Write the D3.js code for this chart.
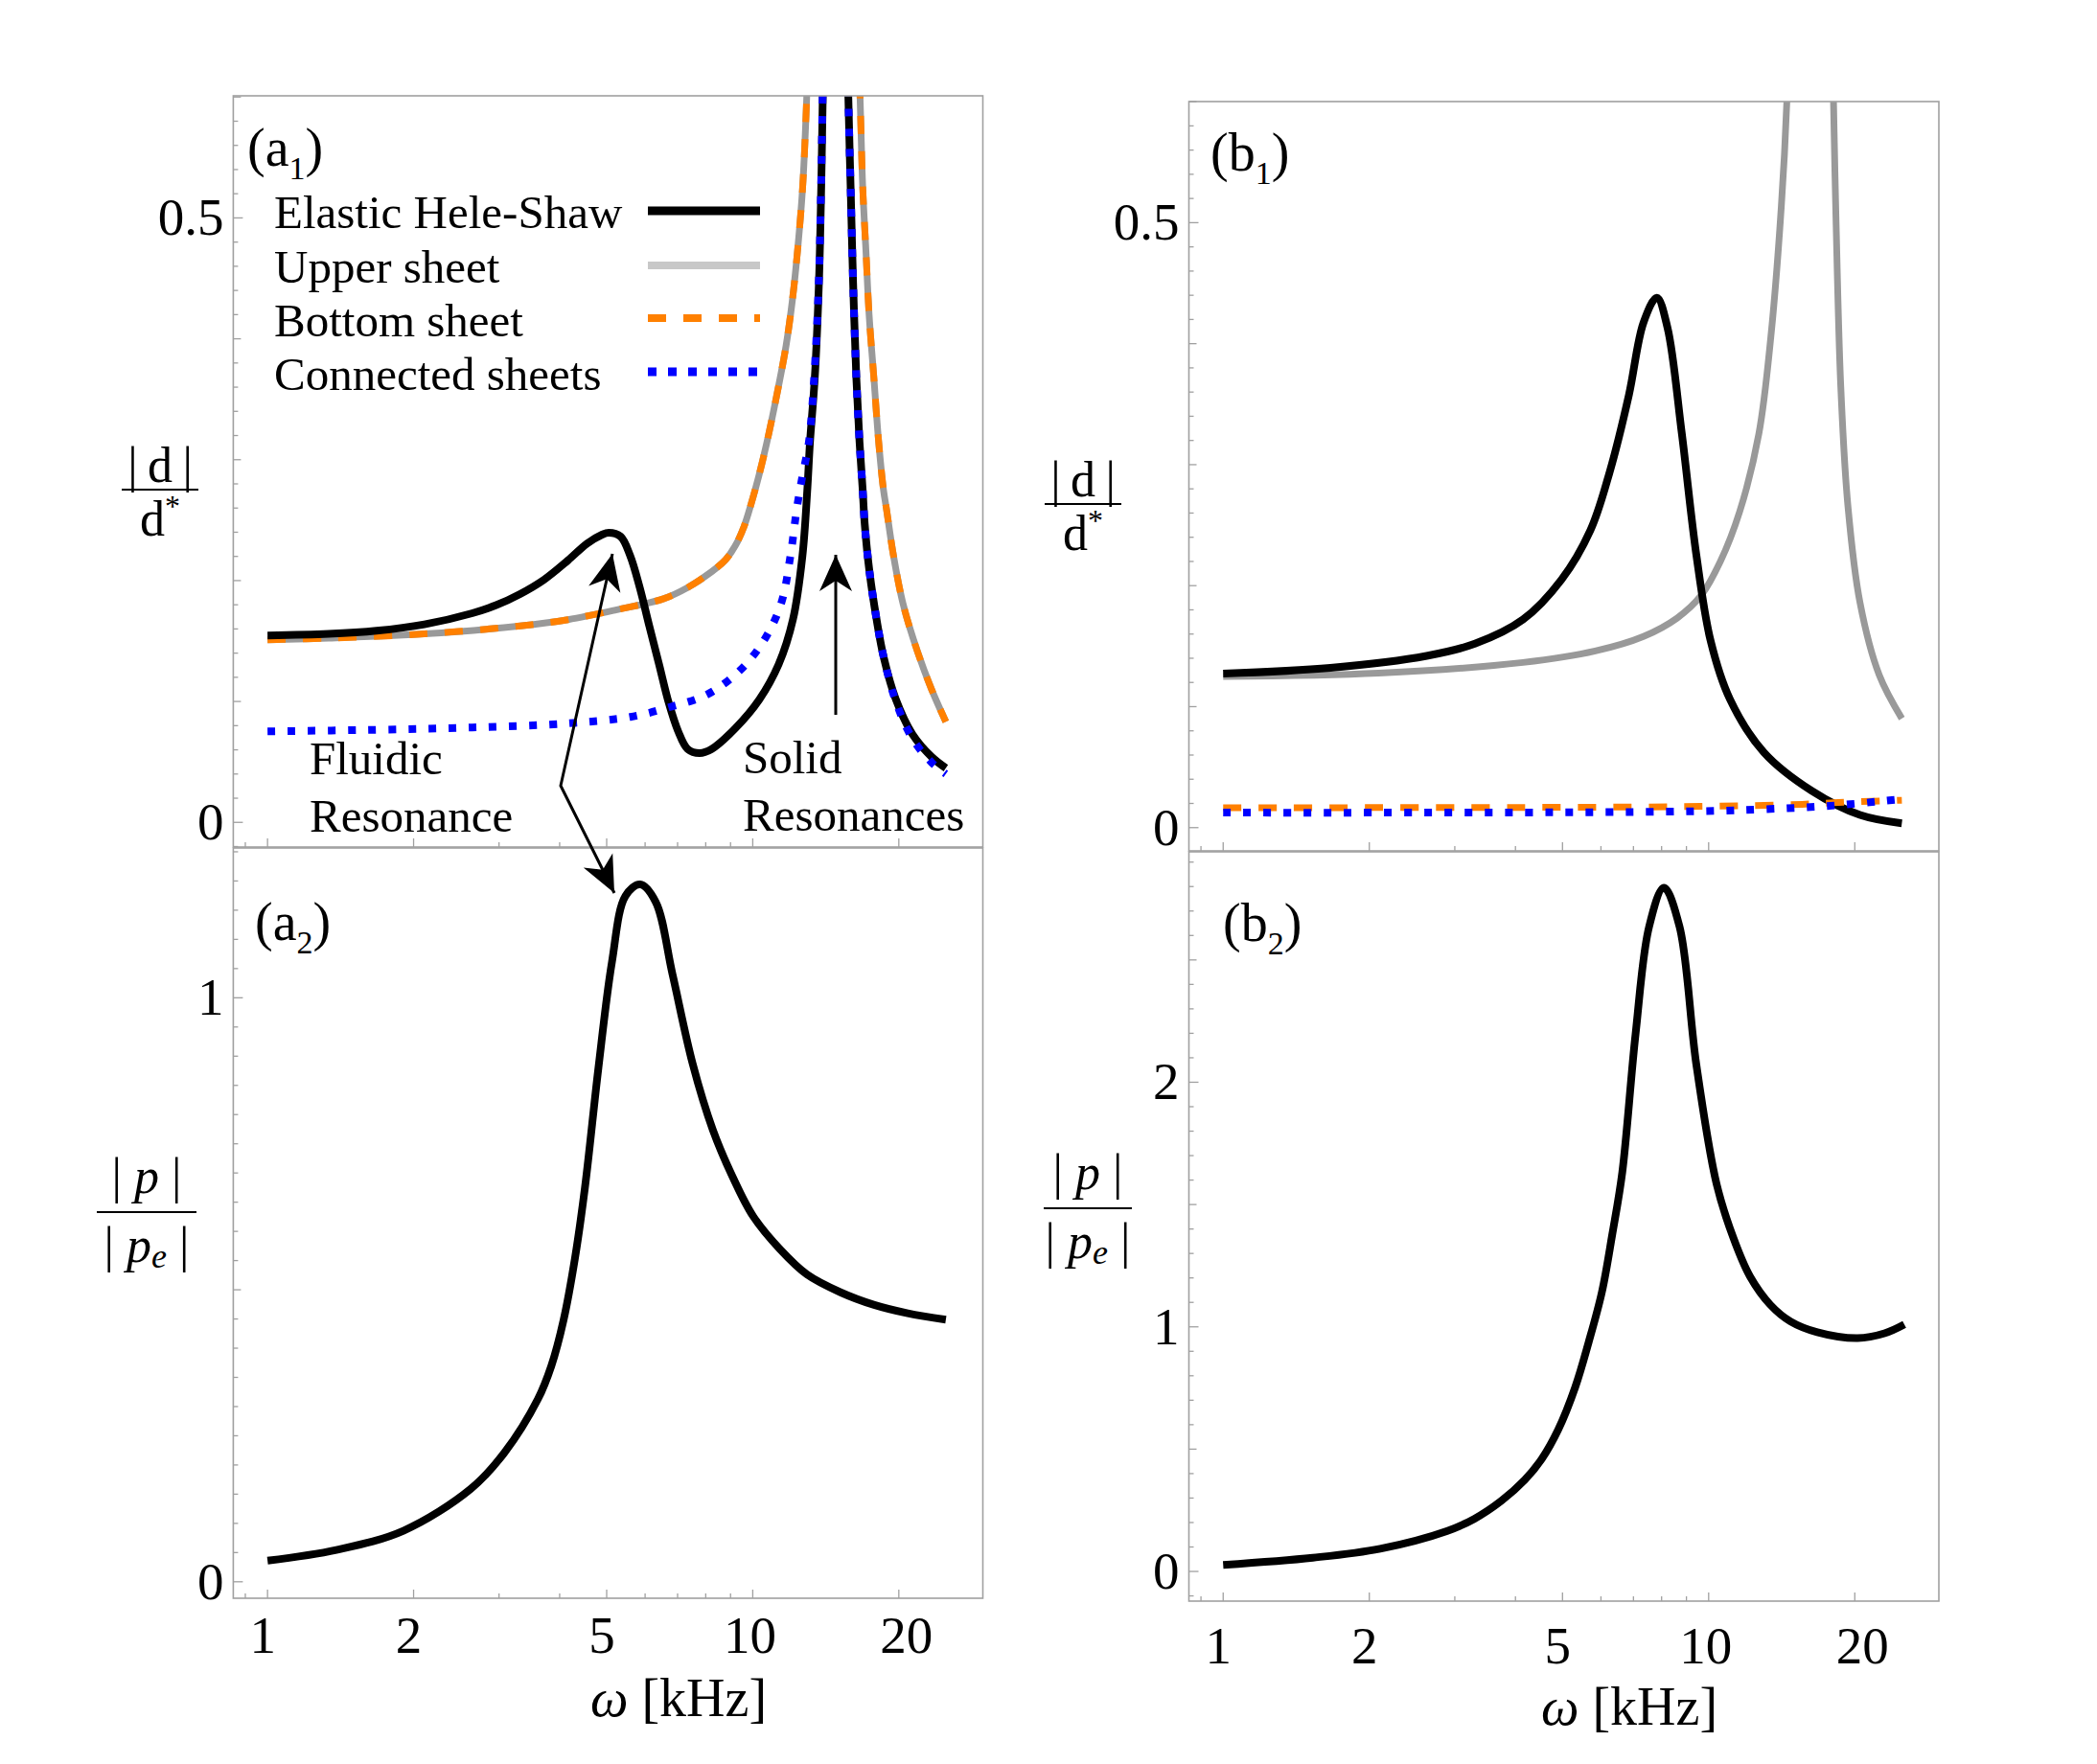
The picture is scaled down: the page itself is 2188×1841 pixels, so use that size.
<!DOCTYPE html>
<html>
<head>
<meta charset="utf-8">
<script src="https://cdn.jsdelivr.net/npm/d3@7"></script>
<style>
  body { margin: 0; background: #fff; }
  text { font-family: "Liberation Serif", "Times New Roman", serif; fill: #000; }
</style>
</head>
<body>
<div id="chart"></div>
<script>
// frequency in kHz
// (a1) displacement
var a1Hele = [[1.0,0.1546],[1.337,0.1559],[1.677,0.1585],[2.105,0.1638],[2.642,0.173],[2.96,0.1797],[3.315,0.1889],
  [3.715,0.2008],[4.16,0.2167],[4.557,0.2307],[4.88,0.2378],[5.05,0.2396],[5.34,0.2365],[5.59,0.2206],[5.85,0.1942],
  [6.12,0.1625],[6.41,0.1308],[6.71,0.0991],[7.02,0.0753],[7.34,0.0607],[7.77,0.0573],[8.23,0.0607],[9.21,0.0779],
  [10.32,0.1017],[11.31,0.1308],[12.1,0.1677],[12.66,0.2206],[12.95,0.274],[13.12,0.3144],[13.42,0.3673],
  [13.69,0.4466],[13.84,0.526],[13.94,0.6],[14.8,1.2],[15.74,0.6],[15.91,0.526],[16.1,0.4466],[16.35,0.3673],
  [16.6,0.3144],[16.85,0.2748],[17.01,0.247],[17.4,0.2074],[18.0,0.1677],[18.63,0.136],[19.72,0.1017],
  [21.36,0.0726],[23.38,0.0541],[25.0,0.0449]];
// upper and bottom sheet lie on top of each other in (a1)
var a1Sheet = [[1.0,0.151],[1.337,0.1524],[2.105,0.1559],[3.315,0.1625],[4.16,0.1677],[5.22,0.1757],[6.55,0.185],
  [7.34,0.1942],[8.23,0.2074],[8.8,0.2175],[9.21,0.229],[9.6,0.245],[9.9,0.262],[10.3,0.287],[10.69,0.314],
  [11.19,0.352],[11.71,0.394],[12.07,0.432],[12.35,0.47],[12.67,0.525],[12.92,0.6],[14.66,1.3],[16.64,0.6],
  [16.85,0.526],[17.11,0.473],[17.37,0.42],[17.77,0.3673],[18.18,0.3144],[18.6,0.2748],[18.85,0.26],[19.5,0.2206],
  [20.4,0.181],[21.85,0.1413],[23.38,0.1097],[25.0,0.0832]];
var a1Connected = [[1.0,0.0753],[1.677,0.0766],[2.642,0.0785],[4.16,0.0819],[5.59,0.0872],[6.71,0.0951],[8.05,0.1057],
  [9.4,0.1255],[10.55,0.1506],[11.44,0.181],[11.96,0.2206],[12.33,0.26],[12.66,0.2866],[13.05,0.3144],[13.38,0.3673],
  [13.68,0.4466],[13.83,0.526],[13.93,0.6],[14.8,1.2],[15.74,0.6],[15.91,0.526],[16.1,0.4466],[16.35,0.3673],
  [16.6,0.3144],[16.85,0.2748],[17.01,0.247],[17.4,0.2074],[18.0,0.1677],[18.63,0.136],[19.72,0.1],[21.36,0.069],
  [23.38,0.0495],[25.0,0.04]];
// (a2) pressure
var a2Pressure = [[1.0,0.0362],[1.386,0.0546],[1.906,0.0874],[2.623,0.159],[3.076,0.2208],[3.609,0.313],[3.846,0.3699],
  [4.074,0.4478],[4.3,0.5533],[4.511,0.6757],[4.808,0.88],[5.127,1.0616],[5.465,1.1744],[5.86,1.1941],[6.31,1.1641],
  [6.83,1.041],[7.52,0.887],[8.27,0.7745],[9.1,0.6925],[10.02,0.6258],[11.38,0.5694],[12.93,0.5263],[15.17,0.4956],
  [17.8,0.474],[20.87,0.4597],[25.0,0.4488]];
// (b1) displacement
var b1Hele = [[1.0,0.1273],[1.663,0.1321],[2.626,0.142],[3.3,0.152],[4.146,0.172],[4.977,0.205],[5.708,0.2458],
  [6.25,0.2936],[6.85,0.3575],[7.34,0.4173],[7.82,0.438],[8.225,0.4134],[8.806,0.3256],[9.43,0.2258],[10.1,0.154],
  [11.06,0.1062],[12.99,0.0623],[16.31,0.0304],[20.5,0.0105],[25.0,0.0036]];
var b1Upper = [[1.0,0.1249],[2.09,0.1277],[4.146,0.1365],[5.84,0.146],[7.34,0.158],[8.61,0.1732],[9.65,0.1919],
  [10.57,0.2199],[11.58,0.2609],[12.69,0.3256],[13.43,0.4054],[14.07,0.5051],[14.49,0.6],[16.2,1.5],[18.08,0.6],
  [18.29,0.5051],[18.71,0.3655],[19.36,0.2658],[20.5,0.186],[22.46,0.1261],[25.0,0.0902]];
var b1Bottom = [[1.0,0.0165],[5.0,0.0168],[9.87,0.0176],[15.58,0.0193],[19.58,0.0212],[25.0,0.0226]];
var b1Connected = [[1.0,0.0124],[8.23,0.0132],[12.99,0.0152],[18.29,0.0184],[25.0,0.0236]];
// (b2) pressure
var b2Pressure = [[1.0,0.027],[1.53,0.0563],[2.105,0.0929],[2.897,0.166],[3.29,0.215],[3.74,0.2885],[4.18,0.374],
  [4.53,0.4597],[4.9,0.58],[5.31,0.753],[5.66,0.937],[6.03,1.144],[6.33,1.377],[6.64,1.633],[7.07,2.196],[7.54,2.636],
  [8.09,2.795],[8.71,2.636],[9.43,2.074],[10.38,1.585],[11.24,1.3644],[12.17,1.2054],[13.39,1.0906],[14.74,1.0221],
  [16.74,0.978],[20.27,0.9536],[23.03,0.9736],[25.3,1.01]];

var xTickLabels = [1, 2, 5, 10, 20];
var xMinorTicks = [0.9, 3, 4, 6, 7, 8, 9];
var legendNames = ["Elastic Hele-Shaw", "Upper sheet", "Bottom sheet", "Connected sheets"];

var W = 2188, H = 1841;
var frameColor = "#a0a0a0";
// tick labels sit a little off their ticks in the original
var xLabelNudge = {1: -5, 2: -5, 5: -5, 10: -3, 20: 8};

var styles = {
  hele:      {stroke: "#000", width: 8, dash: null},
  upper:     {stroke: "#999", width: 7, dash: null},
  bottom:    {stroke: "#ff8000", width: 7, dash: "19,18"},
  connected: {stroke: "#0000ff", width: 8, dash: "8,13"}
};

var svg = d3.select("#chart").append("svg")
    .attr("width", W)
    .attr("height", H);
svg.append("rect").attr("width", W).attr("height", H).attr("fill", "#fff");
var defs = svg.append("defs");

function makePanel(id, left, right, top, bottom, yDom, yMinorStep, yMidStep, yLabels) {
  var x = d3.scaleLog().domain([0.85, 29.8]).range([left, right]);
  var y = d3.scaleLinear().domain(yDom).range([bottom, top]);
  defs.append("clipPath").attr("id", "clip-" + id)
    .append("rect").attr("x", left).attr("y", top).attr("width", right - left).attr("height", bottom - top);
  var g = svg.append("g");
  var plot = g.append("g").attr("clip-path", "url(#clip-" + id + ")");

  // y ticks, pointing into the frame
  var n0 = Math.ceil(yDom[0] / yMinorStep - 1e-6), n1 = Math.floor(yDom[1] / yMinorStep + 1e-6);
  var yt = d3.range(n0, n1 + 1).map(function(k) { return +(k * yMinorStep).toFixed(4); });
  yt.forEach(function(v) {
    var isLab = yLabels.indexOf(v) >= 0;
    var isMid = Math.abs(v / yMidStep - Math.round(v / yMidStep)) < 1e-6;
    var len = isLab ? 10 : (isMid ? 8 : 5);
    g.append("line").attr("x1", left).attr("x2", left + len)
      .attr("y1", y(v)).attr("y2", y(v))
      .attr("stroke", frameColor).attr("stroke-width", 1.3);
  });
  yLabels.forEach(function(v) {
    g.append("text").attr("x", left - 10).attr("y", y(v) + 18)
      .attr("text-anchor", "end").attr("font-size", 55).text(v);
  });

  // x ticks on the bottom edge
  xTickLabels.concat(xMinorTicks).forEach(function(v) {
    var len = xTickLabels.indexOf(v) >= 0 ? 9 : 5;
    g.append("line").attr("x1", x(v)).attr("x2", x(v))
      .attr("y1", bottom).attr("y2", bottom - len)
      .attr("stroke", frameColor).attr("stroke-width", 1.3);
  });

  g.append("rect").attr("x", left).attr("y", top)
    .attr("width", right - left).attr("height", bottom - top)
    .attr("fill", "none").attr("stroke", frameColor).attr("stroke-width", 1.6);

  return {x: x, y: y, g: g, plot: plot, left: left, right: right, top: top, bottom: bottom};
}

function drawSeries(p, data, st) {
  var line = d3.line()
    .x(function(d) { return p.x(d[0]); })
    .y(function(d) { return p.y(d[1]); })
    .curve(d3.curveCatmullRom.alpha(0.5));
  var path = p.plot.append("path").datum(data)
    .attr("d", line)
    .attr("fill", "none")
    .attr("stroke", st.stroke)
    .attr("stroke-width", st.width)
    .attr("stroke-linejoin", "round");
  if (st.dash) path.attr("stroke-dasharray", st.dash);
  return path;
}

function xLabels(p, baseline, titleX, titleBase) {
  xTickLabels.forEach(function(v) {
    p.g.append("text").attr("x", p.x(v) + xLabelNudge[v]).attr("y", baseline)
      .attr("text-anchor", "middle").attr("font-size", 55).text(v);
  });
  var t = p.g.append("text").attr("x", titleX).attr("y", titleBase)
    .attr("text-anchor", "middle").attr("font-size", 56);
  t.append("tspan").attr("font-style", "italic").text("\u03C9");
  t.append("tspan").text(" [kHz]");
}

function panelTag(letter, num, x, base) {
  var t = svg.append("text").attr("x", x).attr("y", base).attr("font-size", 56);
  t.append("tspan").text("(" + letter);
  t.append("tspan").attr("font-size", 34).attr("dy", 14).text(num);
  t.append("tspan").attr("dy", -14).text(")");
}

function dLabel(cx, lineY, w) {
  svg.append("text").attr("x", cx).attr("y", lineY - 8).attr("text-anchor", "middle")
    .attr("font-size", 52).text("|\u2009d\u2009|");
  svg.append("line").attr("x1", cx - w / 2).attr("x2", cx + w / 2)
    .attr("y1", lineY).attr("y2", lineY).attr("stroke", "#000").attr("stroke-width", 2.2);
  var t = svg.append("text").attr("x", cx).attr("y", lineY + 48).attr("text-anchor", "middle")
    .attr("font-size", 52);
  t.append("tspan").text("d");
  t.append("tspan").attr("font-size", 32).attr("dy", -20).text("*");
}

function pLabel(cx, lineY, w) {
  var t1 = svg.append("text").attr("x", cx).attr("y", lineY - 20).attr("text-anchor", "middle")
    .attr("font-size", 52).attr("xml:space", "preserve");
  t1.append("tspan").text("| ");
  t1.append("tspan").attr("font-style", "italic").text("p");
  t1.append("tspan").text(" |");
  svg.append("line").attr("x1", cx - w / 2).attr("x2", cx + w / 2)
    .attr("y1", lineY).attr("y2", lineY).attr("stroke", "#000").attr("stroke-width", 2.2);
  var t2 = svg.append("text").attr("x", cx).attr("y", lineY + 52).attr("text-anchor", "middle")
    .attr("font-size", 52).attr("xml:space", "preserve");
  t2.append("tspan").text("| ");
  t2.append("tspan").attr("font-style", "italic").text("p");
  t2.append("tspan").attr("font-style", "italic").attr("font-size", 36).attr("dy", 6).text("e");
  t2.append("tspan").attr("dy", -6).text(" |");
}

function arrow(points, headAtStart, headAtEnd) {
  var g = svg.append("g");
  function head(tip, from) {
    var dx = tip[0] - from[0], dy = tip[1] - from[1];
    var L = Math.sqrt(dx * dx + dy * dy), ux = dx / L, uy = dy / L;
    var nx = -uy, ny = ux, len = 38, half = 17, notch = 11;
    var pts = [
      [tip[0], tip[1]],
      [tip[0] - ux * len + nx * half, tip[1] - uy * len + ny * half],
      [tip[0] - ux * (len - notch), tip[1] - uy * (len - notch)],
      [tip[0] - ux * len - nx * half, tip[1] - uy * len - ny * half]
    ];
    g.append("path").attr("d", "M" + pts.join("L") + "Z").attr("fill", "#000");
  }
  g.append("path").attr("d", "M" + points.join("L"))
    .attr("fill", "none").attr("stroke", "#000").attr("stroke-width", 3);
  if (headAtStart) head(points[0], points[1]);
  if (headAtEnd) head(points[points.length - 1], points[points.length - 2]);
}

// panels
var pa1 = makePanel("a1", 243.4, 1025.5, 100, 884, [-0.0204, 0.601], 0.02, 0.1, [0, 0.5]);
var pa2 = makePanel("a2", 243.4, 1025.5, 885, 1668, [-0.0282, 1.2565], 0.05, 0.5, [0, 1]);
var pb1 = makePanel("b1", 1240.5, 2023, 106, 888, [-0.0192, 0.6001], 0.02, 0.1, [0, 0.5]);
var pb2 = makePanel("b2", 1240.5, 2023, 889, 1671, [-0.1213, 2.942], 0.1, 0.5, [0, 1, 2]);

// (a1) curves
drawSeries(pa1, a1Sheet, styles.upper);
drawSeries(pa1, a1Sheet, styles.bottom);
drawSeries(pa1, a1Hele, styles.hele);
drawSeries(pa1, a1Connected, styles.connected);
// (a2)
drawSeries(pa2, a2Pressure, styles.hele);
// (b1)
drawSeries(pb1, b1Upper, styles.upper);
drawSeries(pb1, b1Hele, styles.hele);
drawSeries(pb1, b1Bottom, styles.bottom);
drawSeries(pb1, b1Connected, styles.connected);
// (b2)
drawSeries(pb2, b2Pressure, styles.hele);

xLabels(pa2, 1725, 708, 1791);
xLabels(pb2, 1736, 1700, 1800);

panelTag("a", "1", 258, 173);
panelTag("a", "2", 266, 981);
panelTag("b", "1", 1263, 178);
panelTag("b", "2", 1276, 982);

dLabel(167, 511, 80);
dLabel(1130, 526, 80);
pLabel(153, 1265, 104);
pLabel(1135, 1261, 92);

// legend in (a1)
var legendStyles = [
  {stroke: "#000", width: 9, dash: null},
  {stroke: "#c8c8c8", width: 8, dash: null},
  {stroke: "#ff8000", width: 8, dash: "19,18"},
  {stroke: "#0000ff", width: 9, dash: "9,12"}
];
var legendBase = [238, 295, 351, 407];
var legendLineY = [220, 277, 332, 388];
legendNames.forEach(function(name, i) {
  svg.append("text").attr("x", 286).attr("y", legendBase[i]).attr("font-size", 49).text(name);
  var l = svg.append("line").attr("x1", 676).attr("x2", 793)
    .attr("y1", legendLineY[i]).attr("y2", legendLineY[i])
    .attr("stroke", legendStyles[i].stroke).attr("stroke-width", legendStyles[i].width);
  if (legendStyles[i].dash) l.attr("stroke-dasharray", legendStyles[i].dash);
});

// annotations
svg.append("text").attr("x", 323).attr("y", 808).attr("font-size", 49).text("Fluidic");
svg.append("text").attr("x", 323).attr("y", 868).attr("font-size", 49).text("Resonance");
svg.append("text").attr("x", 775).attr("y", 807).attr("font-size", 49).text("Solid");
svg.append("text").attr("x", 775).attr("y", 867).attr("font-size", 49).text("Resonances");

arrow([[639, 578], [585, 820], [641, 932]], true, true);
arrow([[872, 746], [872, 579]], false, true);
</script>
</body>
</html>
